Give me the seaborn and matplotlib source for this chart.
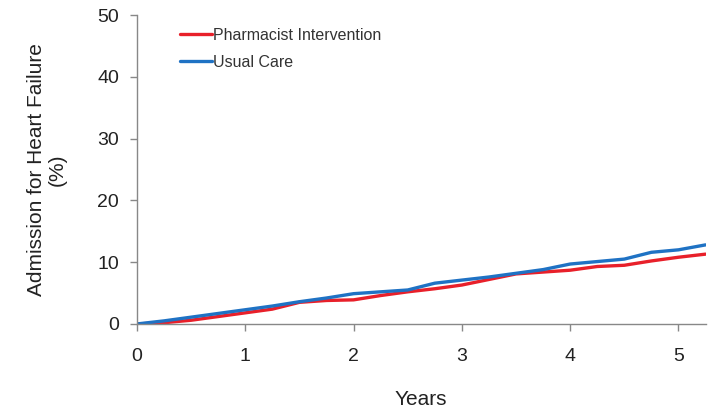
import matplotlib
matplotlib.use('Agg')
import matplotlib.pyplot as plt
import pandas as pd
import seaborn as sb
import numpy as np

# follow-up time (years) and cumulative admission (%)
years = [0.0, 0.25, 0.5, 0.75, 1.0, 1.25, 1.5, 1.75, 2.0, 2.25, 2.5,
         2.75, 3.0, 3.25, 3.5, 3.75, 4.0, 4.25, 4.5, 4.75, 5.0, 5.25]
pharmacist = [0.0, 0.2, 0.6, 1.2, 1.8, 2.4, 3.5, 3.8, 3.9, 4.6, 5.2,
              5.7, 6.3, 7.2, 8.1, 8.4, 8.7, 9.3, 9.5, 10.2, 10.8, 11.3]
usual_care = [0.0, 0.5, 1.1, 1.7, 2.3, 2.9, 3.6, 4.2, 4.9, 5.2, 5.5,
              6.6, 7.1, 7.6, 8.2, 8.8, 9.7, 10.1, 10.5, 11.6, 12.0, 12.8]
groups = ['Pharmacist Intervention', 'Usual Care']
colors = ['#e8202a', '#1f72c4']

df = pd.DataFrame({
    'Years': years * 2,
    'Pct': pharmacist + usual_care,
    'Group': [groups[0]] * len(years) + [groups[1]] * len(years),
})

sb.set_style('white')
plt.rcParams['font.family'] = ['Liberation Sans', 'DejaVu Sans']

fig = plt.figure(figsize=[7.08, 4.08], dpi=100)
ax = fig.add_axes([0.1935, 0.206, 0.803, 0.757])
sb.lineplot(data=df, x='Years', y='Pct', hue='Group', palette=colors,
            hue_order=groups, linewidth=2.4, ax=ax)

ax.set_xlim(0, 5.25)
ax.set_ylim(0, 50)
ax.set_xticks([0, 1, 2, 3, 4, 5])
ax.set_yticks([0, 10, 20, 30, 40, 50])
ax.tick_params(axis='both', labelsize=14, colors='#222222', length=5,
               width=1, direction='out', left=True, bottom=True)
ax.tick_params(axis='y', pad=8)
ax.tick_params(axis='x', pad=12)
ax.tick_params(axis='both', color='#888888')
for side in ['top', 'right']:
    ax.spines[side].set_visible(False)
for side in ['left', 'bottom']:
    ax.spines[side].set_color('#888888')
    ax.spines[side].set_linewidth(1)

ax.set_xlabel('Years', fontsize=15, color='#222222', labelpad=18)
ax.set_ylabel('Admission for Heart Failure\n(%)', fontsize=15,
              color='#222222', labelpad=22, linespacing=1.1)

leg = ax.legend(loc='upper left', bbox_to_anchor=(0.05, 1.005), frameon=False,
                fontsize=11.5, handlelength=2.0, handletextpad=0.1,
                labelspacing=0.75)
for line in leg.get_lines():
    line.set_linewidth(2.4)
for t in leg.get_texts():
    t.set_color('#333333')

plt.savefig('out.png', dpi=100)
